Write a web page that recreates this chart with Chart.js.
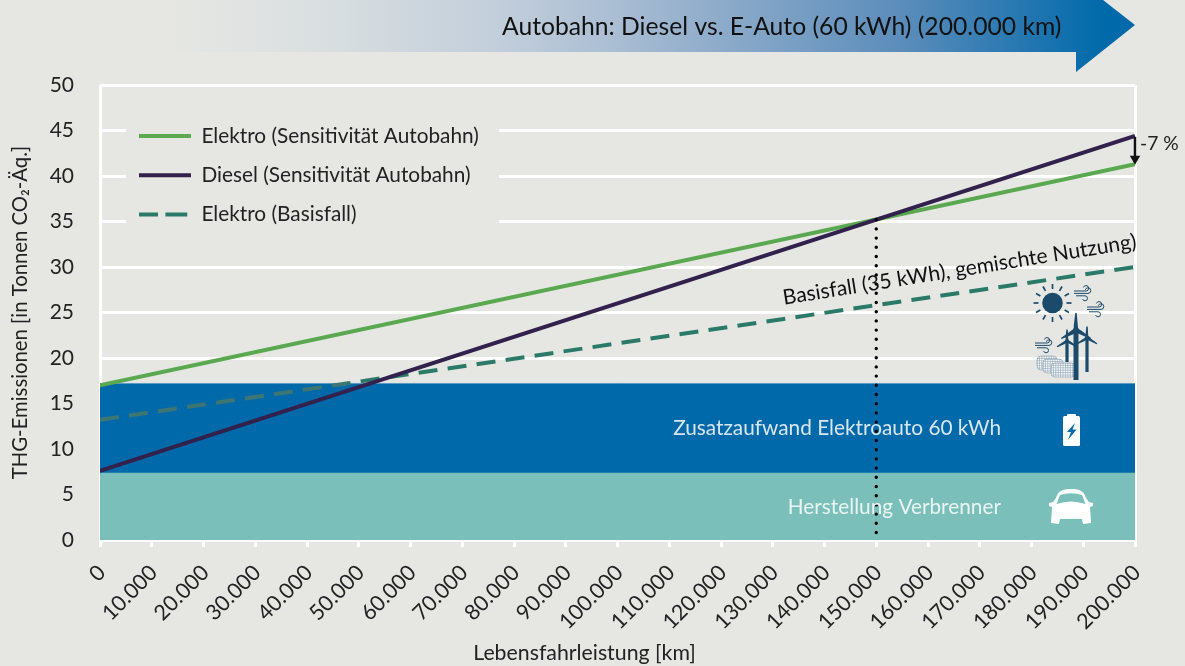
<!DOCTYPE html>
<html lang="de"><head><meta charset="utf-8">
<style>html,body{margin:0;padding:0;background:#e6e7e3;overflow:hidden}canvas{display:block}</style>
<script src="https://cdn.jsdelivr.net/npm/chart.js@4"></script></head>
<body><canvas id="c" width="1185" height="666" style="width:1185px;height:666px"></canvas>
<script>
const xRange = [0, 200000];
const elektroAutobahn = [17.0, 41.3];
const dieselAutobahn = [7.6, 44.4];
const basisX = [0, 47600, 200000];
const basisY = [13.2, 17.2, 30.0];
const bandVerbrenner = 7.4;
const bandZusatz = 17.2;
const markerKm = 150000;
const markerTop = 35.2;
const arrowY = [44.3, 41.9];
const seriesNames = ['Elektro (Sensitivität Autobahn)', 'Diesel (Sensitivität Autobahn)', 'Elektro (Basisfall)'];
const titleText = 'Autobahn: Diesel vs. E-Auto (60 kWh) (200.000 km)';
const yTitle = 'THG-Emissionen [in Tonnen CO₂-Äq.]';
const xTitle = 'Lebensfahrleistung [km]';
const FONT = 'Lato';
const FS = 20.8;
const pairs = (xs, ys) => xs.map((x, i) => ({x, y: ys[i]}));
const fmt = v => v === 0 ? '0' : String(v).replace(/\B(?=(\d{3})+$)/g, '.');

const deco = {
  id: 'deco',
  beforeDatasetsDraw(chart) {
    const c = chart.ctx;
    c.fillStyle = '#e6e7e3';
    c.fillRect(126, 112, 373, 118);
  },
  beforeLayout(chart) {
    const l = chart.legend;
    l._layers = () => [{ z: 1, draw: a => l.draw(a) }];
  },
  afterLayout(chart) {
    const l = chart.legend;
    l.left = 139 - 18.5; l.right = 500; l.top = 107; l.bottom = 280;
  },
  beforeDraw(chart) {
    const c = chart.ctx;
    const g = c.createLinearGradient(170, 0, 1135, 0);
    [[0,'#e6e7e3'],[.17,'#d8dee0'],[.34,'#c2cedb'],[.45,'#adbfd4'],[.76,'#5b8cba'],[.97,'#0069aa'],[1,'#0069aa']].forEach(s => g.addColorStop(s[0], s[1]));
    c.fillStyle = g;
    c.beginPath();
    c.moveTo(170, 0); c.lineTo(1103, 0); c.lineTo(1135, 25); c.lineTo(1076, 72); c.lineTo(1076, 52); c.lineTo(170, 52);
    c.closePath(); c.fill();
    c.fillStyle = '#111';
    c.font = '24.7px ' + FONT; c.textAlign = 'left'; c.textBaseline = 'middle';
    c.fillText(titleText, 502, 27);
    c.fillStyle = '#222';
    c.font = '21.3px ' + FONT; c.textAlign = 'center';
    c.fillText(xTitle, 584.5, 653);
  },
  afterDatasetsDraw(chart) {
    const c = chart.ctx;
    c.save();
    c.textBaseline = 'middle'; c.textAlign = 'right';
    c.font = FS + 'px ' + FONT; c.fillStyle = '#d8e6f0';
    c.fillText('Zusatzaufwand Elektroauto 60 kWh', 1001, 428);
    c.fillStyle = '#eaf4f2';
    c.fillText('Herstellung Verbrenner', 1001, 507);
    c.textAlign = 'left'; c.fillStyle = '#222';
    c.font = '19.3px ' + FONT;
    c.fillText('-7 %', 1140, 144);
    c.font = '21px ' + FONT;
    c.save();
    c.translate(782, 305); c.rotate(-9.1 * Math.PI / 180);
    c.fillStyle = '#111'; c.textBaseline = 'alphabetic';
    c.fillText('Basisfall (35 kWh), gemischte Nutzung)', 2, 0);
    c.restore();
    // Sonne
    const dark = '#1c4a6b';
    c.fillStyle = dark; c.strokeStyle = dark;
    c.beginPath(); c.arc(1052.5, 303, 10.3, 0, 7); c.fill();
    c.lineWidth = 1.7;
    for (let i = 0; i < 12; i++) {
      const a = i * Math.PI / 6, r0 = 14, r1 = 19;
      c.beginPath(); c.moveTo(1052.5 + r0 * Math.cos(a), 303 + r0 * Math.sin(a));
      c.lineTo(1052.5 + r1 * Math.cos(a), 303 + r1 * Math.sin(a)); c.stroke();
    }
    // Wind
    const wind = (x, y) => {
      c.lineWidth = 1;
      c.beginPath();
      c.moveTo(x, y); c.lineTo(x + 12, y); c.arc(x + 12, y - 2.7, 2.7, Math.PI / 2, -Math.PI * .9, true);
      c.moveTo(x, y + 2.4); c.lineTo(x + 14, y + 2.4);
      c.arc(x + 14, y - .4, 2.8, Math.PI / 2, -Math.PI * .9, true);
      c.moveTo(x + 2, y + 4.8); c.lineTo(x + 11, y + 4.8); c.arc(x + 11, y + 7.3, 2.5, -Math.PI / 2, Math.PI * .9);
      c.stroke();
    };
    wind(1074, 291); wind(1087, 307); wind(1035, 343);
    // Wolken
    c.lineWidth = .55;
    [[1037, 356, 20, 14], [1043, 359, 20, 14], [1051, 363, 24, 14]].forEach(r => {
      c.strokeStyle = '#7f98aa';
      c.fillStyle = '#fff';
      c.save();
      c.beginPath(); c.roundRect(r[0], r[1], r[2], r[3], 4); c.fill(); c.stroke();
      c.clip();
      for (let x = r[0]; x < r[0] + r[2]; x += 2.4) { c.beginPath(); c.moveTo(x, r[1]); c.lineTo(x, r[1] + r[3]); c.stroke(); }
      for (let y = r[1]; y < r[1] + r[3]; y += 2.4) { c.beginPath(); c.moveTo(r[0], y); c.lineTo(r[0] + r[2], y); c.stroke(); }
      c.restore();
    });
    // Windräder
    const turbine = (x, y, h, b, w, bw) => {
      c.fillStyle = dark;
      c.fillRect(x - w / 2, y, w, h);
      [-Math.PI / 2, Math.PI / 6, 5 * Math.PI / 6].forEach(a => {
        c.save(); c.translate(x, y); c.rotate(a);
        c.beginPath(); c.moveTo(0, -bw); c.lineTo(b * .3, -bw); c.lineTo(b, -.7); c.lineTo(b, .7); c.lineTo(0, bw); c.closePath(); c.fill();
        c.restore();
      });
      c.beginPath(); c.arc(x, y, bw + .6, 0, 7); c.fill();
    };
    turbine(1067, 341, 21, 11.5, 3.2, 1.4);
    turbine(1087, 338, 34, 11.5, 3.2, 1.4);
    turbine(1076, 330, 50, 17, 5, 2.2);
    // Batterie
    c.fillStyle = '#fff';
    c.beginPath(); c.roundRect(1063, 416, 17, 30, 1.5); c.fill();
    c.beginPath(); c.roundRect(1067, 414, 9, 4, 1); c.fill();
    c.fillStyle = '#0069aa';
    c.beginPath();
    c.moveTo(1075, 423); c.lineTo(1067, 432); c.lineTo(1071, 432); c.lineTo(1068, 440); c.lineTo(1076.5, 429.5); c.lineTo(1072.5, 429.5); c.closePath(); c.fill();
    // Auto
    c.fillStyle = '#fff';
    c.beginPath();
    c.moveTo(1071, 489); c.bezierCurveTo(1062, 489, 1058, 491, 1056, 498);
    c.lineTo(1053, 502); c.lineTo(1049, 503); c.lineTo(1049, 506); c.lineTo(1052, 507); c.lineTo(1051, 523);
    c.lineTo(1059, 524); c.lineTo(1060, 519); c.lineTo(1082, 519); c.lineTo(1083, 524); c.lineTo(1091, 523);
    c.lineTo(1090, 507); c.lineTo(1093, 506); c.lineTo(1093, 503); c.lineTo(1089, 502); c.lineTo(1086, 498);
    c.bezierCurveTo(1084, 491, 1080, 489, 1071, 489); c.closePath(); c.fill();
    c.fillStyle = '#7abfb9';
    c.beginPath();
    c.moveTo(1056.5, 504); c.quadraticCurveTo(1071, 499, 1085.5, 504); c.lineTo(1082, 495);
    c.quadraticCurveTo(1071, 491.5, 1060, 495); c.closePath(); c.fill();
    c.restore();
  }
};

new Chart(document.getElementById('c'), {
  type: 'line',
  data: { datasets: [
    { label: seriesNames[0], data: pairs(xRange, elektroAutobahn), borderColor: '#5aa84f', backgroundColor: '#5aa84f', borderWidth: 4, order: 1, pointRadius: 0 },
    { label: seriesNames[1], data: pairs(xRange, dieselAutobahn), borderColor: '#32214d', backgroundColor: '#32214d', borderWidth: 4, order: 0, pointRadius: 0 },
    { label: seriesNames[2], data: pairs(basisX, basisY), borderColor: '#2b7a69', backgroundColor: '#2b7a69', borderWidth: 4, borderDash: [19, 10.3], order: 2, pointRadius: 0,
      segment: { borderColor: ctx => ctx.p0.parsed.x < 47600 ? '#3d7672' : undefined, borderDashOffset: ctx => ctx.p0.parsed.x < 47600 ? 0 : 14.8 } },
    { label: 'arrow', data: pairs([xRange[1], xRange[1]], arrowY), borderColor: '#111', backgroundColor: '#111', borderWidth: 2.5, order: -1, pointStyle: 'triangle', pointRotation: 180, pointRadius: [0, 6], pointBorderWidth: 0, clip: false },
    { label: 'marker', data: pairs([markerKm, markerKm], [markerTop, 0]), borderColor: '#000', borderWidth: 3.4, borderDash: [0, 9.2], borderCapStyle: 'round', order: -1, pointRadius: 0 },
    { label: 'Zusatzaufwand', data: pairs(xRange, [bandZusatz, bandZusatz]), borderColor: '#5a9bc4', borderWidth: 1, backgroundColor: '#0069aa', fill: { target: { value: bandVerbrenner } }, order: 5, pointRadius: 0 },
    { label: 'Herstellung', data: pairs(xRange, [bandVerbrenner, bandVerbrenner]), borderColor: '#79c0bb', borderWidth: 1, backgroundColor: '#7abfb9', fill: { target: 'origin' }, order: 6, pointRadius: 0 }
  ]},
  options: {
    responsive: false, animation: false, events: [],
    layout: { padding: { top: 85, right: 50, left: 0, bottom: 0 } },
    plugins: {
      tooltip: { enabled: false },
      legend: {
        position: 'chartArea', align: 'start',
        labels: {
          boxWidth: 52, boxHeight: 0, padding: 18.5, color: '#222',
          font: { family: FONT, size: FS },
          filter: item => item.datasetIndex < 3,
          sort: (a, b) => a.datasetIndex - b.datasetIndex
        }
      }
    },
    scales: {
      x: {
        type: 'linear', min: xRange[0], max: xRange[1],
        afterFit: s => { s.height = 126; },
        border: { display: false },
        grid: { color: ctx => (ctx.tick && (ctx.tick.value === 0 || ctx.tick.value === 200000)) ? '#fff' : 'rgba(0,0,0,0)', tickColor: '#fff', lineWidth: 3, tickLength: 7 },
        ticks: { stepSize: 10000, autoSkip: false, minRotation: 45, maxRotation: 45, color: '#222', font: { family: FONT, size: 21.5 }, padding: 13, labelOffset: 2, callback: fmt },
        title: { display: false }
      },
      y: {
        min: 0, max: 50,
        afterFit: s => { s.width = 100; },
        border: { display: false },
        grid: { color: '#fff', lineWidth: 3, drawTicks: false },
        ticks: { stepSize: 5, color: '#222', font: { family: FONT, size: 21 }, padding: 26 },
        title: { display: true, text: yTitle, color: '#222', font: { family: FONT, size: 20.3 }, padding: { top: 8, bottom: 0 } }
      }
    }
  },
  plugins: [deco]
});
</script></body></html>
